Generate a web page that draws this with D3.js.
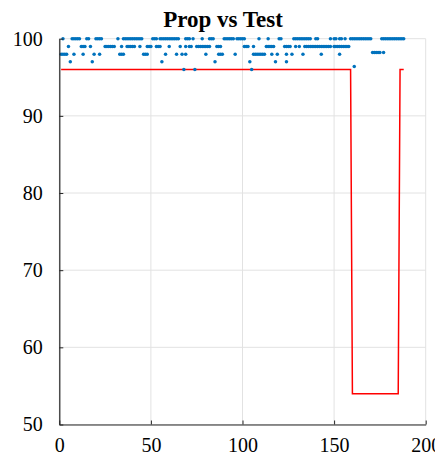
<!DOCTYPE html>
<html><head><meta charset="utf-8">
<script src="https://cdn.jsdelivr.net/npm/d3@7"></script>
<style>body{margin:0;background:#fff}svg{display:block}</style>
</head><body><svg id="c" width="435" height="455"></svg>
<script>
const titleText = "Prop vs Test";
const xTicks = [0, 50, 100, 150, 200];
const yTicks = [50, 60, 70, 80, 90, 100];

// Red "Prop" line vertices (index, value)
const propX = [1, 159, 160, 185, 186, 188];
const propY = [96, 96, 54, 54, 96, 96];

// Blue "Test" points: indices at each value level
const test100 = [2,7,8,9,10,11,15,16,20,21,22,23,32,35,36,37,38,39,40,41,42,43,44,45,51,52,53,55,56,57,58,59,60,61,62,63,64,65,69,70,71,73,78,82,83,84,90,91,92,93,94,95,97,98,99,100,101,109,114,120,121,128,129,130,131,132,133,134,135,136,137,140,141,148,150,151,153,154,156,159,160,161,162,163,164,165,166,167,168,169,170,176,177,178,179,180,181,182,183,184,185,186,187,188];
const test99 = [5,12,13,14,17,25,26,27,28,29,30,34,37,38,39,40,41,44,48,49,50,53,54,55,60,66,69,71,72,75,76,77,78,79,80,81,82,86,87,88,101,102,103,106,113,114,115,116,117,123,124,125,126,129,131,134,135,136,137,138,139,140,141,142,143,144,145,146,147,148,150,151,152,153,154,155,156,157,158];
const test98 = [1,2,3,4,8,13,19,22,33,34,35,46,47,48,58,64,67,69,80,87,88,89,96,106,107,108,109,110,111,112,116,119,124,127,133,143,153];
const test98b = [171,172,173,174,175,177];
const test97 = [6,18,56,85,104,118,124];
const test96 = [68,74,105];
const test96b = [161];

const points = [].concat(
  test100.map(i => [i, 100]),
  test99.map(i => [i, 99]),
  test98.map(i => [i, 98]),
  test98b.map(i => [i, 98.2]),
  test97.map(i => [i, 97]),
  test96.map(i => [i, 96]),
  test96b.map(i => [i, 96.4])
);

const svg = d3.select("#c");
const font = "'Liberation Serif','Times New Roman',serif";
const ink = "#262626";

const x = d3.scaleLinear().domain([0, 200]).range([59.3, 425.7]);
const y = d3.scaleLinear().domain([50, 100]).range([424.5, 38.7]);

// grid
const grid = svg.append("g").attr("stroke", "#e2e2e2").attr("stroke-width", 1);
grid.selectAll(".gx").data(xTicks).join("line")
  .attr("x1", d => x(d)).attr("x2", d => x(d))
  .attr("y1", y(50)).attr("y2", y(100));
grid.selectAll(".gy").data(yTicks).join("line")
  .attr("y1", d => y(d)).attr("y2", d => y(d))
  .attr("x1", x(0)).attr("x2", x(200));

// red line
const line = d3.line().x((d, i) => x(d)).y((d, i) => y(propY[i]));
svg.append("path").datum(propX)
  .attr("d", line)
  .attr("fill", "none").attr("stroke", "#ff0000").attr("stroke-width", 1.5);

// blue dots
svg.append("g").attr("fill", "#0072BD")
  .selectAll("circle").data(points).join("circle")
  .attr("cx", d => x(d[0])).attr("cy", d => y(d[1])).attr("r", 1.75);

// axes
const xAxis = svg.append("g").attr("transform", `translate(0,${y(50)})`)
  .call(d3.axisBottom(x).tickValues(xTicks).tickSizeInner(-4).tickSizeOuter(0));
xAxis.selectAll("text").attr("y", 27.5).attr("dy", null);
const yAxis = svg.append("g").attr("transform", `translate(${x(0)},0)`)
  .call(d3.axisLeft(y).tickValues(yTicks).tickSizeInner(-4).tickSizeOuter(0));
yAxis.selectAll("text").attr("x", -16.5);
[xAxis, yAxis].forEach(a => {
  a.attr("font-family", font).attr("font-size", 20).attr("color", ink);
  a.selectAll("text").attr("fill", "#000");
  a.select(".domain").attr("stroke", ink).attr("stroke-width", 1.2);
  a.selectAll(".tick line").attr("stroke", ink);
});

// title
svg.append("text").attr("x", 223).attr("y", 27)
  .attr("text-anchor", "middle")
  .attr("font-family", font).attr("font-weight", "bold").attr("font-size", 23)
  .attr("fill", "#000").text(titleText);
</script>
</body></html>
